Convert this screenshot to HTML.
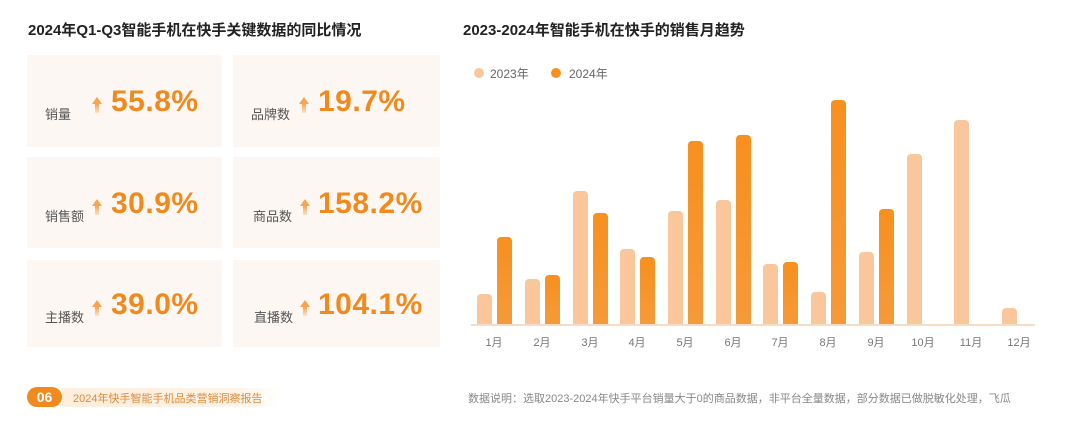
<!DOCTYPE html>
<html><head><meta charset="utf-8"><style>
body{margin:0;width:1080px;height:425px;background:#fff;position:relative;overflow:hidden;font-family:"Liberation Sans","Noto Sans CJK SC",sans-serif;}
.t{position:absolute;font-weight:bold;font-size:15px;color:#222;top:19px;}
.card{position:absolute;background:#fcf7f2;}
.lab{position:absolute;font-size:13px;color:#555;}
.num{position:absolute;font-size:30px;font-weight:bold;color:#f08a1e;letter-spacing:0.5px;}
.arr{position:absolute;width:0;height:0;border-left:5px solid transparent;border-right:5px solid transparent;border-bottom:7px solid #f5a550;}
.arr:after{content:"";position:absolute;left:-2px;top:7px;width:4px;height:9px;background:linear-gradient(#f5a550,#fde4c8);}
.b{position:absolute;width:15px;border-radius:4px 4px 0 0;}
.a{background:#f9c79b;}
.c{background:linear-gradient(#f7901e,#f59a3a);}
.m{position:absolute;top:334px;font-size:11px;color:#777;width:30px;text-align:center;}
</style></head><body>
<div class="t" style="left:28px">2024年Q1-Q3智能手机在快手关键数据的同比情况</div>
<div class="t" style="left:463px">2023-2024年智能手机在快手的销售月趋势</div>

<div class="card" style="left:27px;top:55px;width:195px;height:92px"></div>
<div class="card" style="left:233px;top:55px;width:207px;height:92px"></div>
<div class="card" style="left:27px;top:157px;width:195px;height:91px"></div>
<div class="card" style="left:233px;top:157px;width:207px;height:91px"></div>
<div class="card" style="left:27px;top:260px;width:195px;height:87px"></div>
<div class="card" style="left:233px;top:260px;width:207px;height:87px"></div>

<div class="lab" style="left:45px;top:104px">销量</div>
<div class="arr" style="left:92px;top:97px"></div>
<div class="num" style="left:111px;top:85px">55.8%</div>
<div class="lab" style="left:251px;top:104px">品牌数</div>
<div class="arr" style="left:299px;top:97px"></div>
<div class="num" style="left:318px;top:85px">19.7%</div>

<div class="lab" style="left:45px;top:206px">销售额</div>
<div class="arr" style="left:92px;top:199px"></div>
<div class="num" style="left:111px;top:187px">30.9%</div>
<div class="lab" style="left:253px;top:206px">商品数</div>
<div class="arr" style="left:300px;top:199px"></div>
<div class="num" style="left:318px;top:187px">158.2%</div>

<div class="lab" style="left:45px;top:307px">主播数</div>
<div class="arr" style="left:92px;top:300px"></div>
<div class="num" style="left:111px;top:288px">39.0%</div>
<div class="lab" style="left:254px;top:307px">直播数</div>
<div class="arr" style="left:300px;top:300px"></div>
<div class="num" style="left:318px;top:288px">104.1%</div>

<div style="position:absolute;left:474px;top:68px;width:10px;height:10px;border-radius:50%;background:#f9c79b"></div>
<div style="position:absolute;left:490px;top:65px;font-size:12px;color:#666">2023年</div>
<div style="position:absolute;left:551px;top:68px;width:10px;height:10px;border-radius:50%;background:#f7901e"></div>
<div style="position:absolute;left:569px;top:65px;font-size:12px;color:#666">2024年</div>

<div style="position:absolute;left:471px;top:324px;width:564px;height:2px;background:#f7dcc2"></div>

<div class="b a" style="left:477px;top:294px;height:30px"></div>
<div class="b c" style="left:497px;top:237px;height:87px"></div>
<div class="b a" style="left:525px;top:279px;height:45px"></div>
<div class="b c" style="left:545px;top:275px;height:49px"></div>
<div class="b a" style="left:573px;top:191px;height:133px"></div>
<div class="b c" style="left:593px;top:213px;height:111px"></div>
<div class="b a" style="left:620px;top:249px;height:75px"></div>
<div class="b c" style="left:640px;top:257px;height:67px"></div>
<div class="b a" style="left:668px;top:211px;height:113px"></div>
<div class="b c" style="left:688px;top:141px;height:183px"></div>
<div class="b a" style="left:716px;top:200px;height:124px"></div>
<div class="b c" style="left:736px;top:135px;height:189px"></div>
<div class="b a" style="left:763px;top:264px;height:60px"></div>
<div class="b c" style="left:783px;top:262px;height:62px"></div>
<div class="b a" style="left:811px;top:292px;height:32px"></div>
<div class="b c" style="left:831px;top:100px;height:224px"></div>
<div class="b a" style="left:859px;top:252px;height:72px"></div>
<div class="b c" style="left:879px;top:209px;height:115px"></div>
<div class="b a" style="left:907px;top:154px;height:170px"></div>
<div class="b a" style="left:954px;top:120px;height:204px"></div>
<div class="b a" style="left:1002px;top:308px;height:16px"></div>

<div class="m" style="left:479px">1月</div>
<div class="m" style="left:527px">2月</div>
<div class="m" style="left:575px">3月</div>
<div class="m" style="left:622px">4月</div>
<div class="m" style="left:670px">5月</div>
<div class="m" style="left:718px">6月</div>
<div class="m" style="left:765px">7月</div>
<div class="m" style="left:813px">8月</div>
<div class="m" style="left:861px">9月</div>
<div class="m" style="left:908px">10月</div>
<div class="m" style="left:956px">11月</div>
<div class="m" style="left:1004px">12月</div>

<div style="position:absolute;left:62px;top:388px;width:220px;height:19px;background:linear-gradient(90deg,#fdeedd,#fff4e8 80%,#fff)"></div>
<div style="position:absolute;left:27px;top:387px;width:35px;height:20px;border-radius:10px;background:#f08a1e;color:#fff;font-weight:bold;font-size:14px;text-align:center;line-height:20px">06</div>
<div style="position:absolute;left:73px;top:390px;font-size:11px;color:#e08a3c">2024年快手智能手机品类营销洞察报告</div>
<div style="position:absolute;left:468px;top:390px;font-size:11px;color:#888">数据说明：选取2023-2024年快手平台销量大于0的商品数据，非平台全量数据，部分数据已做脱敏化处理，飞瓜</div>
</body></html>
